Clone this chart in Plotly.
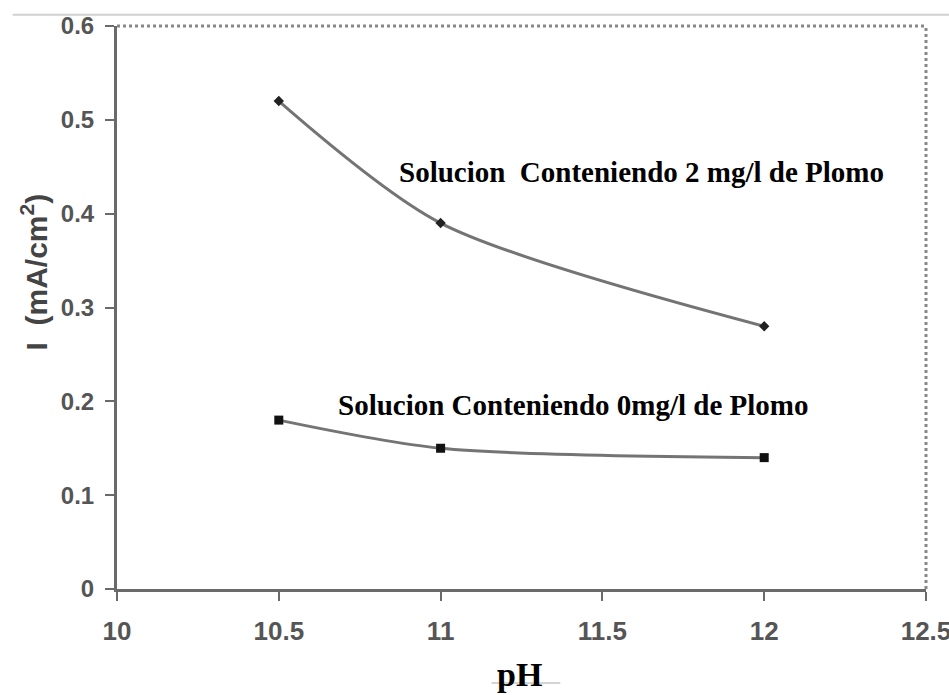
import plotly.graph_objects as go

ph = [10.5, 11, 12]
i_2mg = [0.52, 0.39, 0.28]
i_0mg = [0.18, 0.15, 0.14]
x_ticks = [10, 10.5, 11, 11.5, 12, 12.5]
y_ticks = [0, 0.1, 0.2, 0.3, 0.4, 0.5, 0.6]

line_col = "#747474"
axis_col = "#6a6a6a"

fig = go.Figure()
fig.add_trace(go.Scatter(
    x=ph, y=i_2mg, mode="lines+markers",
    line=dict(color=line_col, width=3, shape="spline", smoothing=0.8),
    marker=dict(symbol="diamond", size=8, color="#222"),
    showlegend=False,
))
fig.add_trace(go.Scatter(
    x=ph, y=i_0mg, mode="lines+markers",
    line=dict(color=line_col, width=3, shape="spline", smoothing=0.8),
    marker=dict(symbol="square", size=9, color="#111"),
    showlegend=False,
))

sans = "Liberation Sans, Arial"

fig.update_xaxes(
    range=[10, 12.5], tickvals=x_ticks, ticktext=[f"{v:g}" for v in x_ticks],
    showline=True, linecolor=axis_col, linewidth=3, mirror=False,
    ticks="outside", ticklen=9, tickwidth=2, tickcolor=axis_col,
    showgrid=False, zeroline=False, automargin=False, ticklabelstandoff=8,
    ticklabeloverflow="allow",
    tickfont=dict(family=sans, size=26, color="#555", weight="bold"),
)
fig.update_yaxes(
    range=[0, 0.6], tickvals=y_ticks, ticktext=[f"{v:g}" for v in y_ticks],
    showline=True, linecolor=axis_col, linewidth=3, mirror=False,
    ticks="outside", ticklen=9, tickwidth=2, tickcolor=axis_col,
    showgrid=False, zeroline=False, automargin=False, ticklabelstandoff=6,
    ticklabeloverflow="allow",
    tickfont=dict(family=sans, size=24, color="#555", weight="bold"),
)

# dotted frame on top and right sides
fig.add_shape(type="line", xref="paper", yref="paper", x0=0, x1=1, y0=1, y1=1,
              line=dict(color="#888", width=3, dash="dot"))
fig.add_shape(type="line", xref="paper", yref="paper", x0=1, x1=1, y0=0, y1=1,
              line=dict(color="#888", width=3, dash="dot"))
# thin rule across the top of the page
fig.add_shape(type="line", xref="paper", yref="paper", x0=-0.129, x1=1.03,
              y0=1.02, y1=1.02, line=dict(color="#d0d0d0", width=2))
# short rule under the x title
fig.add_shape(type="line", xref="paper", yref="paper", x0=0.463, x1=0.548,
              y0=-0.167, y1=-0.167, line=dict(color="#aaa", width=1))

serif = dict(family="Liberation Serif, Times New Roman", size=29, color="#000")
fig.add_annotation(x=10.866, y=0.444, xref="x", yref="y", text="<b>Solucion  Conteniendo 2 mg/l de Plomo</b>",
                   showarrow=False, xanchor="left", yanchor="middle", font=serif)
fig.add_annotation(x=10.678, y=0.196, xref="x", yref="y", text="<b>Solucion Conteniendo 0mg/l de Plomo</b>",
                   showarrow=False, xanchor="left", yanchor="middle", font=serif)

fig.add_annotation(x=-0.102, y=0.563, xref="paper", yref="paper", text="<b>I  (mA/cm<sup>2</sup>)</b>",
                   textangle=-90, showarrow=False, xanchor="center", yanchor="middle",
                   font=dict(family=sans, size=30, color="#444"))
fig.add_annotation(x=0.497, y=-0.152, xref="paper", yref="paper", text="<b>pH</b>",
                   showarrow=False, xanchor="center", yanchor="middle",
                   font=dict(family="Liberation Serif, Times New Roman", size=34, color="#000"))

fig.update_layout(
    width=949, height=695,
    margin=dict(l=117, r=23, t=26, b=106),
    plot_bgcolor="white", paper_bgcolor="white",
)

fig.write_html("out.html")
